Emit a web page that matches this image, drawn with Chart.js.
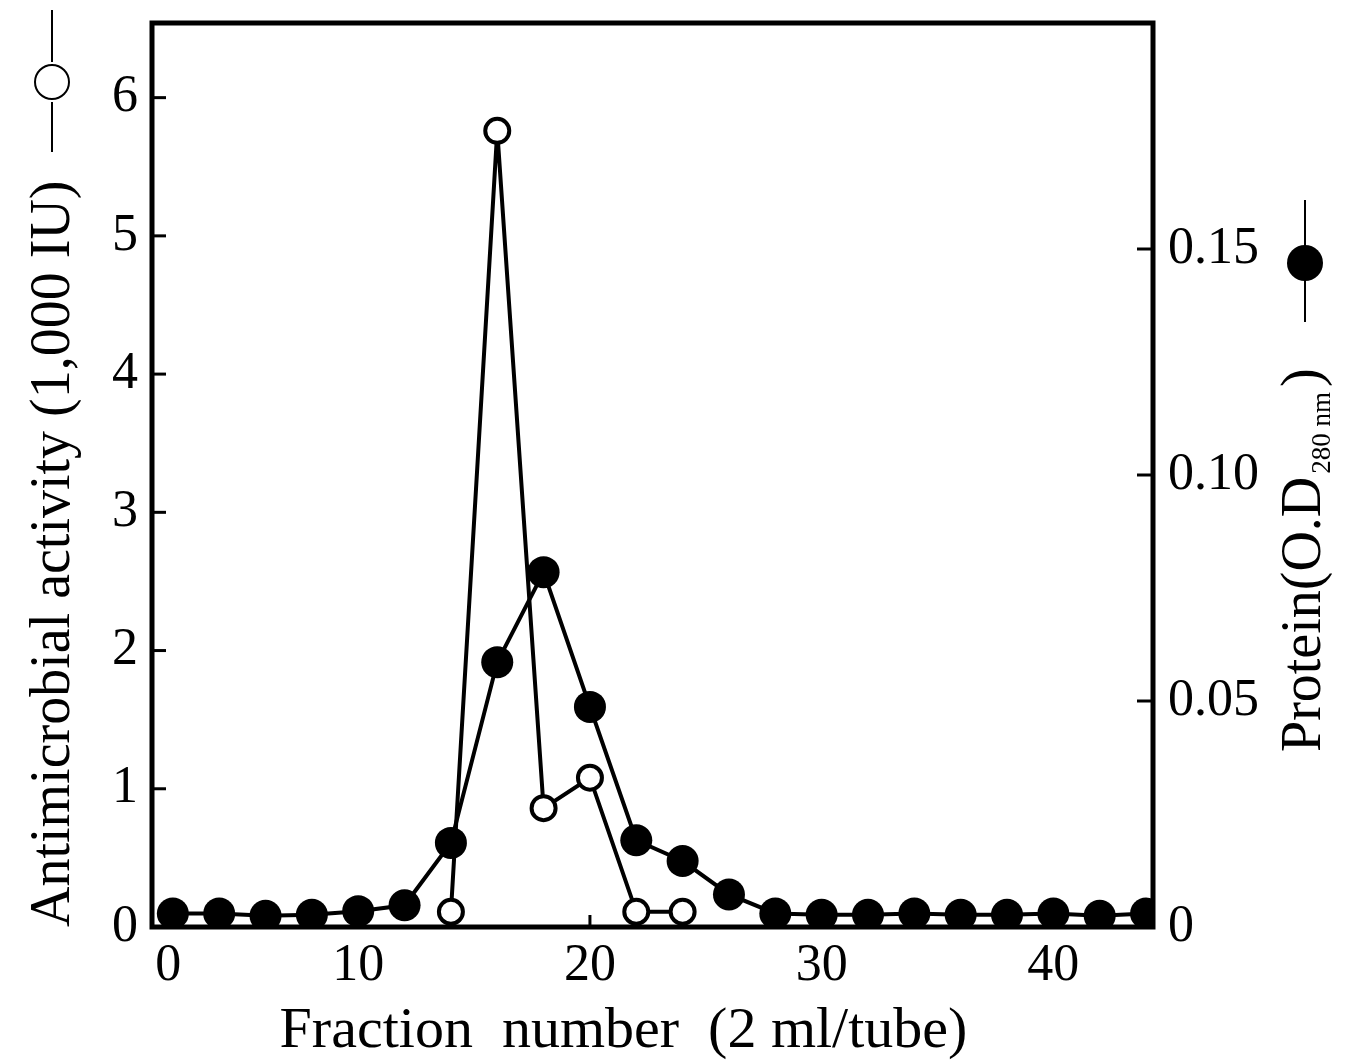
<!DOCTYPE html>
<html>
<head>
<meta charset="utf-8">
<script src="https://cdn.jsdelivr.net/npm/chart.js@4/dist/chart.umd.min.js"></script>
<style>
  html, body { margin: 0; padding: 0; background: #fff; }
</style>
</head>
<body>
<canvas id="fractionChart" width="1355" height="1061"></canvas>
<script>
// fraction numbers (x) and the two measured series
const fractions = [2, 4, 6, 8, 10, 12, 14, 16, 18, 20, 22, 24, 26, 28, 30, 32, 34, 36, 38, 40, 42, 44];
// activity only plotted where the open circles are drawn
const activity = [null, null, null, null, null, null, 0.11, 5.76, 0.86, 1.08, 0.11, 0.11,
                  null, null, null, null, null, null, null, null, null, null];
const protein = [0.003, 0.003, 0.0025, 0.0027, 0.0035, 0.0048, 0.0186, 0.0586, 0.0785, 0.0487, 0.0192,
                 0.0146, 0.0072, 0.003, 0.0027, 0.0027, 0.003, 0.0027, 0.0027, 0.003, 0.0025, 0.003];

// tick labels
const xTickValues = [1.8, 10, 20, 30, 40];
const xTickLabels = ['0', '10', '20', '30', '40'];
const leftTickValues = [0, 1, 2, 3, 4, 5, 6];
const rightTickValues = [0, 0.05, 0.10, 0.15];
const rightTickLabels = ['0', '0.05', '0.10', '0.15'];

const SERIF = '"Liberation Serif", "DejaVu Serif", serif';

// frame, inward ticks, right title and the little series keys
const framePlugin = {
  id: 'frame',
  afterDatasetsDraw(chart) {
    const { ctx, chartArea: a, scales } = chart;
    ctx.save();
    ctx.strokeStyle = '#000';
    ctx.lineWidth = 3;
    scales.y.ticks.forEach(t => {
      const py = scales.y.getPixelForValue(t.value);
      ctx.beginPath(); ctx.moveTo(a.left, py); ctx.lineTo(a.left + 14, py); ctx.stroke();
    });
    scales.y1.ticks.forEach(t => {
      const py = scales.y1.getPixelForValue(t.value);
      ctx.beginPath(); ctx.moveTo(a.right, py); ctx.lineTo(a.right - 16, py); ctx.stroke();
    });
    scales.x.ticks.slice(1).forEach(t => {
      const px = scales.x.getPixelForValue(t.value);
      ctx.beginPath(); ctx.moveTo(px, a.bottom); ctx.lineTo(px, a.bottom - 12); ctx.stroke();
    });
    ctx.lineWidth = 5;
    ctx.strokeRect(a.left, a.top, a.right - a.left, a.bottom - a.top);
    ctx.restore();
  },
  afterDraw(chart) {
    const { ctx } = chart;
    ctx.save();
    ctx.fillStyle = '#000';
    ctx.strokeStyle = '#000';

    // right axis title, read bottom to top
    ctx.translate(1305, 752);
    ctx.rotate(-Math.PI / 2);
    ctx.textBaseline = 'middle';
    ctx.textAlign = 'left';
    ctx.font = '56px ' + SERIF;
    const main = 'Protein(O.D';
    ctx.fillText(main, 0, 0);
    let w = ctx.measureText(main).width;
    ctx.font = '27px ' + SERIF;
    const sub = '280 nm';
    ctx.fillText(sub, w + 3, 18);
    w += ctx.measureText(sub).width + 8;
    ctx.font = '56px ' + SERIF;
    ctx.fillText(')', w, 0);
    ctx.setTransform(1, 0, 0, 1, 0, 0);

    // key for the open-circle series (left)
    ctx.lineWidth = 2;
    ctx.beginPath(); ctx.moveTo(52, 10); ctx.lineTo(52, 62); ctx.moveTo(52, 102); ctx.lineTo(52, 152); ctx.stroke();
    ctx.beginPath(); ctx.arc(52, 82, 17, 0, Math.PI * 2); ctx.fillStyle = '#fff'; ctx.fill(); ctx.stroke();

    // key for the filled-circle series (right)
    ctx.beginPath(); ctx.moveTo(1305, 200); ctx.lineTo(1305, 322); ctx.stroke();
    ctx.beginPath(); ctx.arc(1305, 263, 18, 0, Math.PI * 2); ctx.fillStyle = '#000'; ctx.fill();
    ctx.restore();
  }
};

// fixed axis boxes so the plot frame lands where the original has it
function fixVertical(width) {
  return s => {
    s.width = width;
    s.paddingTop = 0;
    s.paddingBottom = 0;
  };
}

const ctx = document.getElementById('fractionChart').getContext('2d');

new Chart(ctx, {
  type: 'line',
  data: {
    datasets: [
      {
        label: 'Protein (O.D 280 nm)',
        data: fractions.map((f, i) => ({ x: f, y: protein[i] })),
        yAxisID: 'y1',
        borderColor: '#000',
        borderWidth: 4,
        pointRadius: 16,
        pointBackgroundColor: '#000',
        pointBorderColor: '#000',
        pointBorderWidth: 0,
        clip: 0,
        order: 1
      },
      {
        label: 'Antimicrobial activity',
        data: fractions.map((f, i) => ({ x: f, y: activity[i] })),
        yAxisID: 'y',
        borderColor: '#000',
        borderWidth: 4,
        pointRadius: 12,
        pointBackgroundColor: '#fff',
        pointBorderColor: '#000',
        pointBorderWidth: 4,
        clip: 0,
        order: 2
      }
    ]
  },
  options: {
    responsive: false,
    animation: false,
    devicePixelRatio: 1,
    layout: { autoPadding: false, padding: { top: 23, left: 0, right: 0, bottom: 0 } },
    plugins: { legend: { display: false }, tooltip: { enabled: false } },
    scales: {
      x: {
        type: 'linear',
        min: 1.1,
        max: 44.3,
        afterBuildTicks: s => { s.ticks = xTickValues.map(v => ({ value: v })); },
        afterFit: s => { s.height = 134; s.paddingLeft = 0; s.paddingRight = 0; },
        ticks: {
          callback: (v, i) => xTickLabels[i],
          autoSkip: false, maxRotation: 0, padding: 8,
          color: '#000', font: { family: SERIF, size: 52 }
        },
        grid: { display: false, drawTicks: false },
        border: { display: false },
        title: {
          display: true,
          text: 'Fraction  number  (2 ml/tube)    ',
          color: '#000',
          font: { family: SERIF, size: 58, lineHeight: 1 },
          padding: { top: 0, bottom: 0 }
        }
      },
      y: {
        position: 'left',
        min: 0,
        max: 6.54,
        afterBuildTicks: s => { s.ticks = leftTickValues.map(v => ({ value: v })); },
        afterFit: fixVertical(152),
        ticks: { padding: 14, color: '#000', font: { family: SERIF, size: 52 } },
        grid: { display: false, drawTicks: false },
        border: { display: false },
        title: {
          display: true,
          text: 'Antimicrobial activity (1,000 IU)',
          align: 'start',
          color: '#000',
          font: { family: SERIF, size: 56, lineHeight: 1.2 },
          padding: { top: 21, bottom: 0 }
        }
      },
      y1: {
        position: 'right',
        min: 0,
        max: 0.2,
        afterBuildTicks: s => { s.ticks = rightTickValues.map(v => ({ value: v })); },
        afterFit: fixVertical(202),
        ticks: {
          callback: (v, i) => rightTickLabels[i],
          padding: 15, color: '#000', font: { family: SERIF, size: 52 }
        },
        grid: { display: false, drawTicks: false },
        border: { display: false }
      }
    }
  },
  plugins: [framePlugin]
});
</script>
</body>
</html>
